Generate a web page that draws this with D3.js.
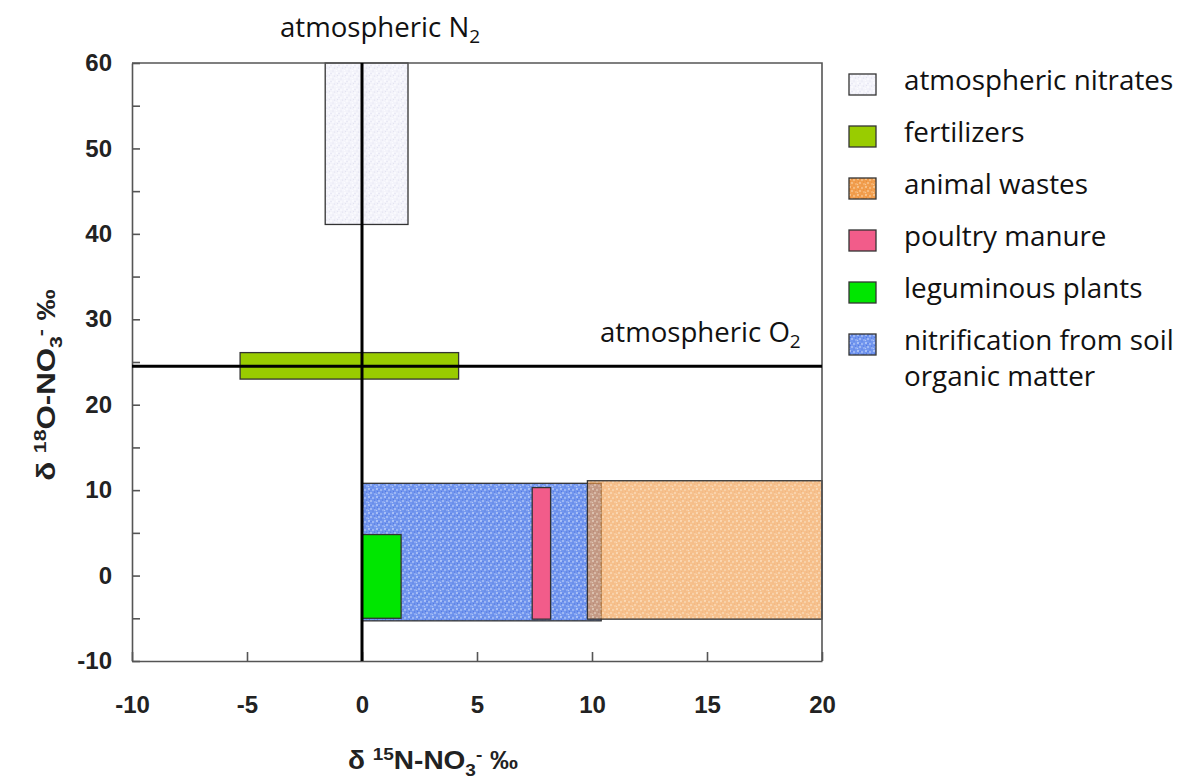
<!DOCTYPE html>
<html>
<head>
<meta charset="utf-8">
<script src="https://cdn.jsdelivr.net/npm/d3@7"></script>
<style>
  html, body { margin: 0; padding: 0; background: #fff; }
  svg { display: block; }
</style>
</head>
<body>
<svg id="chart" width="1182" height="781"></svg>
<script>
// Nitrate source fields in δ15N / δ18O space (‰)
const sources = ["atmospheric nitrates", "fertilizers", "animal wastes", "poultry manure", "leguminous plants", "nitrification from soil organic matter"];
const n15Min = [-1.6, -5.3, 9.8, 7.4, 0, 0];
const n15Max = [2.0, 4.2, 20, 8.2, 1.7, 10.4];
const o18Min = [41.1, 23.0, -5.1, -5.1, -5.0, -5.3];
const o18Max = [60, 26.1, 11.1, 10.3, 4.8, 10.8];
// drawing order (bottom to top)
const drawOrder = [0, 1, 5, 2, 4, 3];

const xTicks = [-10, -5, 0, 5, 10, 15, 20];
const yTicks = [-10, -5, 0, 5, 10, 15, 20, 25, 30, 35, 40, 45, 50, 55, 60];
const atmN2 = 0;     // δ15N of atmospheric N2
const atmO2 = 24.5;  // δ18O of atmospheric O2

const svg = d3.select("#chart");
const x = d3.scaleLinear().domain([-10, 20]).range([132, 822]);
const y = d3.scaleLinear().domain([-10, 60]).range([661, 63]);

// ---- fill patterns ----
const defs = svg.append("defs");
function speckle(id, base, light, dark) {
  const p = defs.append("pattern").attr("id", id)
    .attr("patternUnits", "userSpaceOnUse").attr("width", 8).attr("height", 8);
  p.append("rect").attr("width", 8).attr("height", 8).attr("fill", base);
  const lightDots = [[1, 1, 1.1], [5, 2, 0.9], [3, 5, 1.0], [7, 6, 0.8], [0.5, 6.5, 0.7]];
  const darkDots = [[3, 1.5, 0.6], [6.5, 4, 0.6], [1.5, 3.5, 0.5], [5, 7, 0.5]];
  lightDots.forEach(d => p.append("circle").attr("cx", d[0]).attr("cy", d[1]).attr("r", d[2]).attr("fill", light));
  if (dark) darkDots.forEach(d => p.append("circle").attr("cx", d[0]).attr("cy", d[1]).attr("r", d[2]).attr("fill", dark));
}
speckle("pat-atm", "#f3f3fa", "#fbfbff", "#dedeef");
speckle("pat-animal", "#f19e4e", "#f8c58f", "#e98a36");
speckle("pat-soil", "#7296ee", "#aec4f7", "#4b70df");

const fills = ["url(#pat-atm)", "#99cc00", "url(#pat-animal)", "#f25c8a", "#00e600", "url(#pat-soil)"];
const opac = [1, 1, 0.65, 1, 1, 1];

// ---- source boxes ----
svg.append("g").selectAll("rect")
  .data(drawOrder)
  .join("rect")
  .attr("x", i => x(n15Min[i]))
  .attr("y", i => y(o18Max[i]))
  .attr("width", i => x(n15Max[i]) - x(n15Min[i]))
  .attr("height", i => y(o18Min[i]) - y(o18Max[i]))
  .attr("fill", i => fills[i])
  .attr("fill-opacity", i => opac[i])
  .attr("stroke", "#333")
  .attr("stroke-width", 1.3);

// ---- axes ----
const axisColor = "#555";
const xAxis = d3.axisBottom(x).tickValues(xTicks).tickSizeInner(-9).tickSizeOuter(0).tickPadding(35)
  .tickFormat(d => String(d));
const gx = svg.append("g").attr("transform", `translate(0,${y(-10)})`).call(xAxis);

const yAxis = d3.axisLeft(y).tickValues(yTicks).tickSizeInner(-8).tickSizeOuter(0).tickPadding(20)
  .tickFormat(d => d % 10 === 0 ? String(d) : "");
const gy = svg.append("g").attr("transform", `translate(${x(-10)},0)`).call(yAxis);

[gx, gy].forEach(g => {
  g.select(".domain").attr("stroke", axisColor).attr("stroke-width", 1.6);
  g.selectAll(".tick line").attr("stroke", axisColor).attr("stroke-width", 1.6);
  g.selectAll(".tick text")
    .attr("fill", "#222")
    .style("font-family", "'Liberation Sans', Arial, sans-serif")
    .style("font-weight", "bold")
    .style("font-size", "24px");
});

// frame top and right
svg.append("path")
  .attr("d", `M${x(-10)},${y(60)}H${x(20)}V${y(-10)}`)
  .attr("fill", "none").attr("stroke", axisColor).attr("stroke-width", 1.6);

// ---- reference lines: atmospheric N2 and O2 ----
svg.append("line")
  .attr("x1", x(atmN2)).attr("x2", x(atmN2))
  .attr("y1", y(60)).attr("y2", y(-10))
  .attr("stroke", "#000").attr("stroke-width", 3);
svg.append("line")
  .attr("x1", x(-10)).attr("x2", x(20))
  .attr("y1", y(atmO2)).attr("y2", y(atmO2))
  .attr("stroke", "#000").attr("stroke-width", 3);

const labelFont = "'Open Sans', 'Noto Sans', sans-serif";
function subLabel(tx, ty, main, sub) {
  const t = svg.append("text").attr("x", tx).attr("y", ty)
    .style("font-family", labelFont).style("font-size", "27.6px").attr("fill", "#111");
  t.append("tspan").text(main);
  t.append("tspan").attr("dy", 6).style("font-size", "19px").text(sub);
}
subLabel(280, 37, "atmospheric N", "2");
subLabel(600, 342, "atmospheric O", "2");

// ---- axis titles ----
const titleFont = "'Liberation Sans', Arial, sans-serif";
function axisTitle(g, letter) {
  const t = g.append("text").attr("text-anchor", "middle")
    .style("font-family", titleFont).style("font-weight", "bold").style("font-size", "25px").attr("fill", "#222");
  t.append("tspan").text("δ ");
  t.append("tspan").attr("dy", -9).style("font-size", "17px").text(letter === "N" ? "15" : "18");
  t.append("tspan").attr("dy", 9).text(letter + "-NO");
  t.append("tspan").attr("dy", 7).style("font-size", "17px").text("3");
  t.append("tspan").attr("dy", -16).style("font-size", "17px").text("-");
  t.append("tspan").attr("dy", 9).text(" ‰");
}
axisTitle(svg.append("g").attr("transform", "translate(433,769) scale(1.12,1)"), "N");
axisTitle(svg.append("g").attr("transform", "translate(55,385) rotate(-90) scale(1.25,1)"), "O");

// ---- legend ----
const legend = svg.append("g").attr("transform", "translate(849,74)");
const rowH = 52;
sources.forEach((name, i) => {
  const g = legend.append("g").attr("transform", `translate(0,${i * rowH})`);
  g.append("rect").attr("width", 27).attr("height", 21)
    .attr("fill", fills[i]).attr("stroke", "#333").attr("stroke-width", 1.3);
  const t = g.append("text").attr("x", 55).attr("y", 16)
    .style("font-family", labelFont).style("font-size", "27.8px").attr("fill", "#111");
  if (i === 5) {
    t.append("tspan").attr("x", 55).text("nitrification from soil");
    t.append("tspan").attr("x", 55).attr("dy", 36).text("organic matter");
  } else {
    t.text(name);
  }
});
</script>
</body>
</html>
